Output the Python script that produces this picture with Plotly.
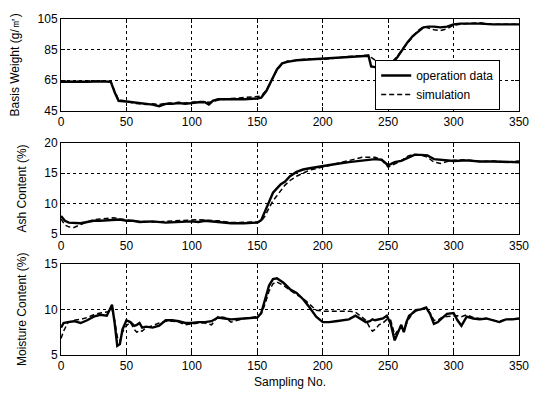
import plotly.graph_objects as go
from plotly.subplots import make_subplots

# ---------------- data ----------------
bw_x = [0, 10, 20, 30, 38, 41, 44, 50, 55, 60, 65, 70, 75, 80, 85, 90, 95, 100, 105, 110, 113, 116, 120,
        130, 140, 150, 153, 157, 161, 165, 169, 173, 180, 190, 200, 210, 220, 230, 235, 237, 240, 245,
        250, 253, 257, 261, 265, 269, 273, 277, 281, 285, 290, 295, 300, 305, 310, 320, 330, 340, 350]
bw_op = [64, 63.8, 64, 64.2, 64, 57, 51.5, 51, 50.5, 50, 49.5, 49, 48, 49.5, 49.5, 50, 49.5, 50, 50.5,
         50.5, 49, 51.5, 52.5, 52.5, 52.5, 53, 53.5, 58, 65, 72, 76, 77, 78, 78.5, 79, 79.5, 80, 80.5,
         81, 74, 73.5, 73.5, 73.5, 76, 80, 85, 90, 94, 97, 99.5, 100, 100, 99.5, 100, 101.5, 102, 102,
         102, 101.5, 101.5, 101.5]
bw_sim = [64.5, 64, 64.5, 64.5, 64.5, 58, 52, 51.5, 50, 49.5, 49, 49.5, 49, 50, 50, 50.5, 50, 50.5, 51,
          51, 50.5, 51, 52, 53, 53.5, 54, 54.5, 58.5, 65.5, 71.5, 75.5, 77.5, 78, 79, 78.5, 79.5, 80.5,
          81, 81.5, 80, 78, 76.5, 76, 77, 80.5, 85.5, 89.5, 94, 97.5, 100, 99, 98, 97.5, 98.5, 101, 101.5,
          102, 102.5, 101.5, 101.5, 101.5]

ash_x = [0, 3, 6, 10, 15, 20, 25, 30, 35, 40, 45, 50, 55, 60, 70, 80, 90, 100, 105, 110, 120, 130, 140,
         150, 153, 156, 159, 162, 165, 168, 171, 175, 180, 185, 190, 200, 210, 220, 230, 240, 245, 250,
         255, 260, 265, 270, 275, 280, 285, 290, 295, 300, 310, 320, 330, 340, 350]
ash_op = [8, 7.2, 6.9, 6.9, 6.8, 7, 7.2, 7.2, 7.3, 7.3, 7.4, 7.2, 7.2, 7, 7.1, 6.9, 7.0, 7.1, 7.0, 7.2,
          7.0, 6.8, 6.8, 6.9, 7.3, 8.8, 10.5, 11.8, 12.5, 13.2, 13.6, 14.5, 15.2, 15.6, 15.8, 16.2, 16.5,
          16.8, 17.0, 17.3, 17.2, 16.3, 16.8, 17.0, 17.5, 18.0, 18.0, 17.9, 17.3, 17.2, 17.0, 17.0, 17.1,
          16.9, 16.9, 16.8, 16.8]
ash_sim = [7.5, 6.5, 6.2, 6.1, 6.6, 7.0, 7.4, 7.5, 7.6, 7.7, 7.5, 7.3, 7.2, 7.1, 7.0, 7.1, 7.2, 7.3, 7.4,
           7.3, 7.2, 6.9, 6.9, 7.0, 7.1, 8.0, 9.3, 10.5, 11.3, 12.2, 13.0, 13.8, 14.5, 15.0, 15.5, 16.0,
           16.5, 17.0, 17.6, 17.6, 17.2, 16.0, 16.5, 17.0, 17.8, 18.1, 18.0, 17.6, 16.8, 16.6, 16.9, 17.1,
           17.2, 16.9, 17.0, 16.8, 17.0]

mc_x = [0, 2, 5, 10, 15, 20, 25, 30, 35, 37, 39, 41, 43, 45, 47, 50, 53, 56, 58, 60, 62, 65, 70, 75, 80,
        85, 90, 95, 100, 105, 110, 115, 120, 125, 130, 140, 150, 153, 156, 159, 162, 165, 170, 175, 180,
        185, 190, 195, 200, 205, 210, 215, 220, 225, 230, 233, 236, 238, 240, 243, 246, 249, 252, 255,
        258, 260, 262, 264, 266, 268, 271, 275, 279, 282, 285, 288, 291, 295, 300, 303, 306, 310, 315,
        320, 325, 330, 335, 340, 345, 350]
mc_op = [8.0, 8.5, 8.6, 8.7, 8.5, 8.8, 9.2, 9.4, 9.3, 9.9, 10.5, 8.5, 6.0, 6.2, 7.8, 8.8, 8.6, 8.2, 8.3,
         8.5, 8.0, 8.1, 8.0, 8.2, 8.8, 8.8, 8.7, 8.5, 8.5, 8.6, 8.6, 8.7, 9.1, 9.0, 8.9, 9.0, 9.1, 9.6,
         11.0, 12.6, 13.3, 13.4, 12.9, 12.2, 11.8, 11.1, 10.2, 9.2, 8.6, 8.6, 8.7, 8.8, 8.9, 9.3, 8.9, 8.6,
         8.7, 8.9, 8.8, 8.9, 9.0, 9.3, 8.4, 6.6, 7.6, 8.3, 7.5, 8.6, 9.3, 9.5, 9.9, 10.0, 10.2, 9.5, 8.4,
         8.6, 9.0, 9.5, 9.6, 8.8, 8.2, 9.2, 9.0, 8.9, 9.0, 8.8, 8.6, 8.9, 8.9, 9.0]
mc_sim = [6.8, 7.6, 8.5, 8.8, 8.9, 9.1, 9.4, 9.6, 9.7, 9.9, 10.0, 8.8, 7.0, 6.5, 7.5, 8.2, 8.6, 7.8, 7.5,
          7.7, 7.6, 8.0, 8.2, 8.5, 8.7, 8.7, 8.6, 8.3, 8.4, 8.5, 8.5, 8.3, 9.2, 9.1, 8.6, 9.0, 9.2, 9.5,
          10.6, 12.0, 12.8, 13.0, 12.6, 12.1, 11.6, 11.2, 10.5, 9.9, 9.8, 9.8, 9.8, 9.8, 9.8, 9.7, 9.2,
          8.8, 8.0, 7.6, 7.8, 8.3, 8.5, 8.9, 8.8, 7.2, 7.8, 8.0, 7.8, 8.4, 9.0, 9.4, 9.8, 10.0, 10.0, 9.6,
          8.8, 8.8, 9.1, 9.2, 9.3, 9.3, 9.2, 9.4, 9.1, 9.0, 9.0, 8.8, 8.7, 8.9, 8.9, 9.0]

x_ticks = [0, 50, 100, 150, 200, 250, 300, 350]
bw_ticks = [45, 65, 85, 105]
ash_ticks = [5, 10, 15, 20]
mc_ticks = [5, 10, 15]

# ---------------- figure ----------------
FONT = "Liberation Sans, Arial"
fig = make_subplots(rows=3, cols=1, vertical_spacing=0.05)

panels = [
    (bw_x, bw_op, bw_sim, 1),
    (ash_x, ash_op, ash_sim, 2),
    (mc_x, mc_op, mc_sim, 3),
]
for xs, op, sim, r in panels:
    fig.add_trace(go.Scatter(x=xs, y=op, mode="lines", name="operation data",
                             line=dict(color="black", width=2.4), showlegend=(r == 1)),
                  row=r, col=1)
    fig.add_trace(go.Scatter(x=xs, y=sim, mode="lines", name="simulation",
                             line=dict(color="black", width=1.5, dash="5px,3px"), showlegend=(r == 1)),
                  row=r, col=1)

domains = [[0.727, 1.0], [0.3595, 0.632], [0.0, 0.272]]
yinfo = [
    ("Basis Weight (g/㎡)", [45, 105], bw_ticks),
    ("Ash Content (%)", [5, 20], ash_ticks),
    ("Moisture Content (%)", [5, 15], mc_ticks),
]
axis_common = dict(showline=True, linecolor="black", linewidth=1, mirror="ticks",
                   ticks="inside", ticklen=4, tickcolor="black",
                   showgrid=True, gridcolor="black", gridwidth=1, griddash="dot",
                   zeroline=False, tickfont=dict(family=FONT, size=12, color="black"))
for i in range(3):
    title, rng, yt = yinfo[i]
    fig.update_yaxes(range=rng, tickvals=yt, domain=domains[i],
                     title=dict(text=title, font=dict(family=FONT, size=12, color="black"),
                                standoff=15),
                     row=i + 1, col=1, **axis_common)
    fig.update_xaxes(range=[0, 350], tickvals=x_ticks, row=i + 1, col=1, **axis_common)

fig.update_xaxes(title=dict(text="Sampling No.", font=dict(family=FONT, size=12, color="black"),
                            standoff=5), row=3, col=1)

fig.update_layout(
    width=541, height=399,
    margin=dict(l=61, r=12, t=17, b=39),
    paper_bgcolor="white", plot_bgcolor="white",
    font=dict(family=FONT, size=11, color="black"),
    legend=dict(x=0.686, y=0.729, xanchor="left", yanchor="bottom",
                bordercolor="black", borderwidth=1, bgcolor="white",
                font=dict(family=FONT, size=12, color="black"), tracegroupgap=0,
                itemwidth=30),
)

fig.write_html("out.html")
